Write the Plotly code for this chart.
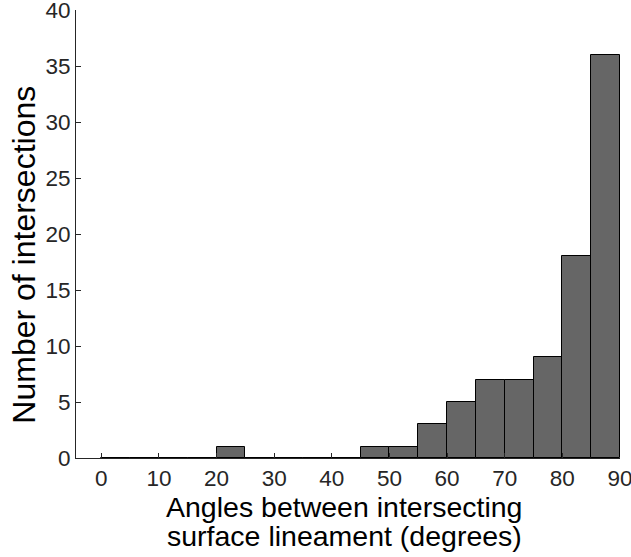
import plotly.graph_objects as go

bin_edges = [0, 5, 10, 15, 20, 25, 30, 35, 40, 45, 50, 55, 60, 65, 70, 75, 80, 85]
counts = [0, 0, 0, 0, 1, 0, 0, 0, 0, 1, 1, 3, 5, 7, 7, 9, 18, 36]
bin_width = 5
x_ticks = [0, 10, 20, 30, 40, 50, 60, 70, 80, 90]
y_ticks = [0, 5, 10, 15, 20, 25, 30, 35, 40]
x_title_lines = ["Angles between intersecting", "surface lineament (degrees)"]
y_title = "Number of intersections"

centers = [e + bin_width / 2 for e in bin_edges]

fig = go.Figure()
fig.add_trace(go.Bar(
    x=centers, y=counts, width=[bin_width] * len(counts),
    marker=dict(color="#666666", line=dict(color="#000000", width=1)),
    showlegend=False,
))

font = "Liberation Sans, Arial, Helvetica, sans-serif"
axis_common = dict(ticks="inside", ticklen=5, tickcolor="#262626", showline=True,
                   linecolor="#262626", linewidth=1, showgrid=False, zeroline=False,
                   automargin=False, ticklabeloverflow="allow",
                   tickfont=dict(family=font, size=22.5, color="#262626"))
fig.update_layout(
    width=631, height=557,
    margin=dict(l=76, r=11, t=10, b=99, autoexpand=False),
    paper_bgcolor="white", plot_bgcolor="white",
    bargap=0,
    font=dict(family=font, size=22, color="#262626"),
    xaxis=dict(range=[-4.4, 90], tickvals=x_ticks, **axis_common),
    yaxis=dict(range=[0, 40], tickvals=y_ticks, **axis_common),
    annotations=[
        dict(text=x_title_lines[0],
             xref="paper", yref="paper", x=0.493, y=-0.07, xanchor="center", yanchor="top",
             showarrow=False, font=dict(family=font, size=28.5, color="#000000")),
        dict(text=x_title_lines[1],
             xref="paper", yref="paper", x=0.493, y=-0.1335, xanchor="center", yanchor="top",
             showarrow=False, font=dict(family=font, size=28.5, color="#000000")),
        dict(text=y_title, textangle=-90,
             xref="paper", yref="paper", x=-0.0957, y=0.4537, xanchor="center", yanchor="middle",
             showarrow=False, font=dict(family=font, size=32, color="#000000")),
    ],
)

fig.write_html("out.html", config={"displayModeBar": False})
with open("out.html", "r", encoding="utf-8") as f:
    html = f.read()
html = html.replace("<body>", '<body style="margin:0;padding:0;">', 1)
with open("out.html", "w", encoding="utf-8") as f:
    f.write(html)
